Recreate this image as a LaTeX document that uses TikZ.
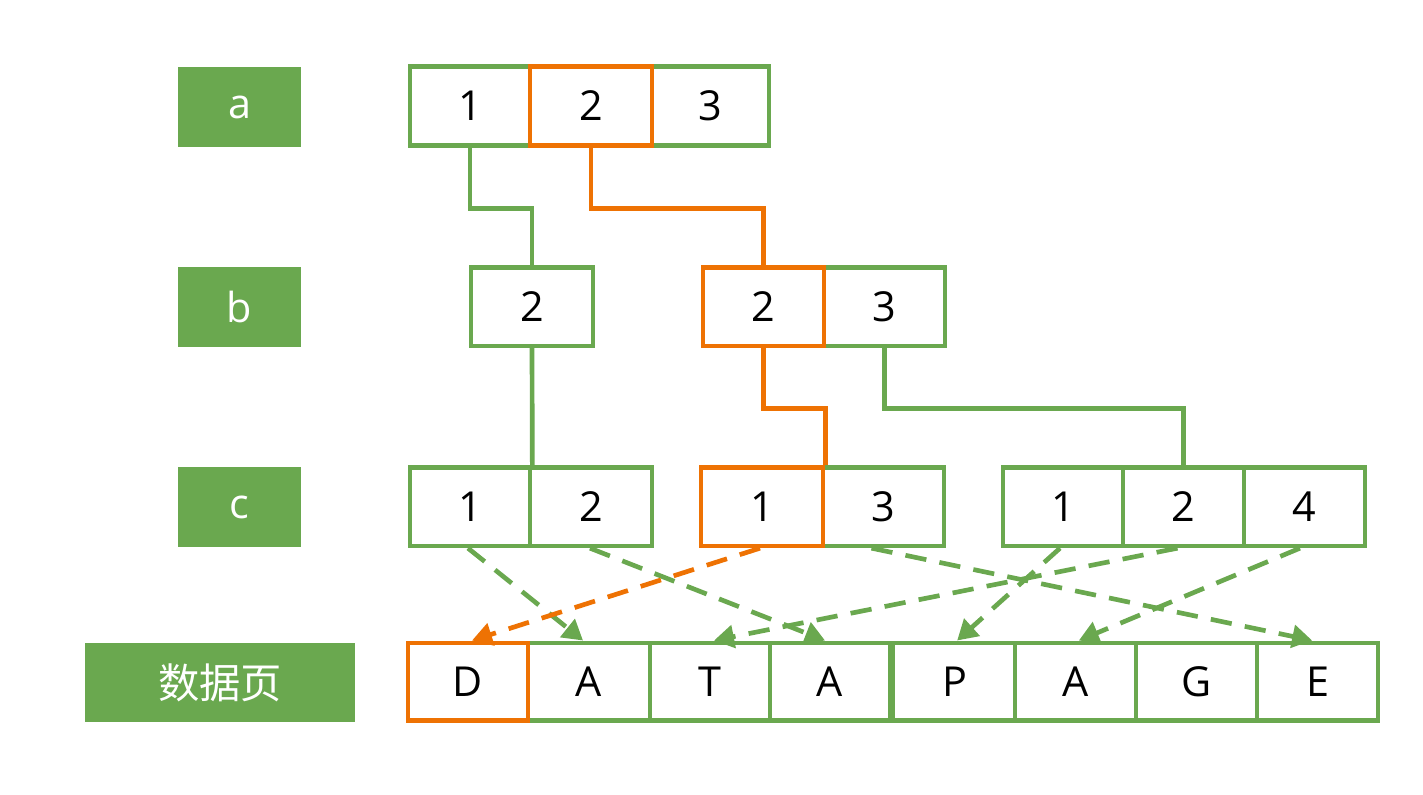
\documentclass[tikz,border=0pt]{standalone}
\usepackage{fontspec}
\setmainfont{Open Sans}
\newfontfamily\cjk{Noto Sans CJK SC}
\usetikzlibrary{arrows.meta}
\definecolor{leaf}{HTML}{6AA84F}
\definecolor{ember}{HTML}{EE7203}

\begin{document}
\begin{tikzpicture}[x=0.75pt,y=-0.75pt,
  cell/.style={draw=leaf, line width=3.5pt, fill=white, minimum height=59pt,
               inner sep=0pt, font=\fontsize{31}{36}\selectfont},
  w/.style={minimum width=0.75*#1pt},
  hot/.style={draw=ember},
  tag/.style={fill=leaf, text=white, minimum height=60pt, minimum width=92.25pt,
              inner sep=0pt, font=\fontsize{31}{36}\selectfont},
  link/.style={draw=leaf, line width=3.5pt},
  hotlink/.style={draw=ember, line width=3.5pt},
  ptr/.style={draw=leaf, line width=3.5pt, dash pattern=on 16pt off 10pt,
              -{Triangle[length=15pt,width=17pt]}},
  hotptr/.style={ptr, draw=ember},
]
\useasboundingbox (0,0) rectangle (1423,795);

% level labels
\node[tag] (la) at (239.5,107) {a};
\node[tag] (lb) at (239.5,307) {b};
\node[tag] (lc) at (239.5,507) {c};
\node[tag, minimum width=202.5pt, minimum height=59.25pt,
      font=\fontsize{31}{36}\selectfont\cjk] (ld) at (220,682.5) {数据页};

% level a
\node[cell, w=120] (a1) at (470,106) {1};
\node[cell, w=117] (a3) at (710.5,106) {3};

% level b
\node[cell, w=122] (b1) at (532,306.5) {2};
\node[cell, w=121] (b3) at (884.5,306.5) {3};

% level c
\node[cell, w=120] (c1) at (470,506.5) {1};
\node[cell, w=122] (c2) at (591,506.5) {2};
\node[cell, w=121] (c4) at (883.5,506.5) {3};
\node[cell, w=120] (c5) at (1063,506.5) {1};
\node[cell, w=121] (c6) at (1183.5,506.5) {2};
\node[cell, w=121] (c7) at (1304.5,506.5) {4};

% data page
\node[cell, w=122, minimum height=58pt] (d2) at (589,681.5) {A};
\node[cell, w=120, minimum height=58pt] (d3) at (710,681.5) {T};
\node[cell, w=120, minimum height=58pt] (d4) at (830,681.5) {A};
\node[cell, w=123, minimum height=58pt] (d5) at (954.5,681.5) {P};
\node[cell, w=121, minimum height=58pt] (d6) at (1075.5,681.5) {A};
\node[cell, w=121, minimum height=58pt] (d7) at (1196.5,681.5) {G};
\node[cell, w=121, minimum height=58pt] (d8) at (1317.5,681.5) {E};

% highlighted search path
\node[cell, hot, w=122] (a2) at (591,106) {2};
\node[cell, hot, w=121] (b2) at (763.5,306.5) {2};
\node[cell, hot, w=122] (c3) at (762,506.5) {1};
\node[cell, hot, w=120, minimum height=58pt] (d1) at (468,681.5) {D};

% tree links
\draw[link] (a1.south) -- ++(0,61) -| (b1.north);
\draw[link] (b1.south) -- (c1.north east);
\draw[link] (b3.south) -- ++(0,60) -| (c6.north);
\draw[hotlink] (a2.south) -- ++(0,61) -| (b2.north);
\draw[hotlink] (b2.south) -- ++(0,60) -| (c3.north east);

% row pointers into the data page
\draw[ptr] ([xshift=-1.5pt]c1.south) -- ([xshift=-4.5pt]d2.north);
\draw[ptr] ([xshift=-0.75pt]c2.south) -- ([xshift=-3.75pt]d4.north);
\draw[ptr] ([xshift=-9pt]c4.south) -- ([xshift=-4pt]d8.north);
\draw[ptr] ([xshift=-2.25pt]c5.south) -- ([xshift=2pt]d5.north);
\draw[ptr] ([xshift=-4.5pt]c6.south) -- ([xshift=3pt]d3.north);
\draw[ptr] ([xshift=-3.4pt]c7.south) -- ([xshift=2.5pt]d6.north);
\draw[hotptr] ([xshift=-1.5pt]c3.south) -- ([xshift=3pt]d1.north);
\end{tikzpicture}
\end{document}
